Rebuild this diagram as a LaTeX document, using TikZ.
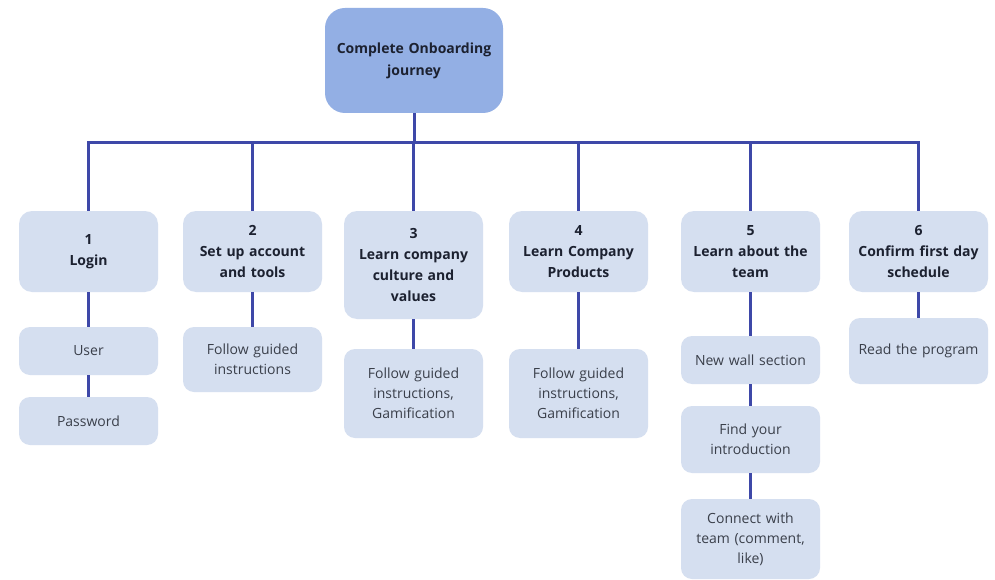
\documentclass[tikz,border=0pt]{standalone}
\usepackage{fontspec}
\setmainfont{Open Sans}
\definecolor{rootfill}{HTML}{93AFE4}
\definecolor{boxfill}{HTML}{D5DFF0}
\definecolor{linkcol}{HTML}{3E48A8}
\definecolor{headtext}{HTML}{1C2130}
\definecolor{bodytext}{HTML}{3A3F4A}
\tikzset{
  x=1pt, y=-1pt,
  rootbox/.style={fill=rootfill, rounded corners=20pt, minimum width=178pt, minimum height=105pt,
    inner sep=0pt, text width=170pt, align=center, text=headtext,
    font=\fontsize{14}{22}\selectfont\bfseries},
  headbox/.style={fill=boxfill, rounded corners=13pt, minimum width=139pt,
    inner sep=0pt, text width=134pt, align=center, text=headtext,
    font=\fontsize{14}{21}\selectfont\bfseries},
  leafbox/.style={fill=boxfill, rounded corners=11pt, minimum width=139pt,
    inner sep=0pt, text width=134pt, align=center, text=bodytext,
    font=\fontsize{14}{20}\selectfont},
  link/.style={draw=linkcol, line width=3pt}
}
\begin{document}
\begin{tikzpicture}
\useasboundingbox[fill=white] (0,0) rectangle (995,580);

% root
\node[rootbox] (root) at (414,60.5) {Complete Onboarding\\journey};

% main steps
\node[headbox, minimum height=81pt]  (s1) at (88.5,251.5)  {1\\Login};
\node[headbox, minimum height=81pt]  (s2) at (252.5,251.5) {2\\Set up account\\and tools};
\node[headbox, minimum height=108pt] (s3) at (413.5,265)   {3\\Learn company\\culture and\\values};
\node[headbox, minimum height=81pt]  (s4) at (578.5,251.5) {4\\Learn Company\\Products};
\node[headbox, minimum height=81pt]  (s5) at (750.5,251.5) {5\\Learn about the\\team};
\node[headbox, minimum height=81pt]  (s6) at (918.5,251.5) {6\\Confirm first day\\schedule};

% sub steps
\node[leafbox, minimum height=48pt] (s1a) at (88.5,351)  {User};
\node[leafbox, minimum height=48pt] (s1b) at (88.5,421)  {Password};
\node[leafbox, minimum height=65pt] (s2a) at (252.5,359.5) {Follow guided\\instructions};
\node[leafbox, minimum height=89pt] (s3a) at (413.5,393.5) {Follow guided\\instructions,\\Gamification};
\node[leafbox, minimum height=89pt] (s4a) at (578.5,393.5) {Follow guided\\instructions,\\Gamification};
\node[leafbox, minimum height=48pt] (s5a) at (750.5,360)  {New wall section};
\node[leafbox, minimum height=67pt] (s5b) at (750.5,439.5) {Find your\\introduction};
\node[leafbox, minimum height=80pt] (s5c) at (750.5,539)  {Connect with\\team (comment,\\like)};
\node[leafbox, minimum height=66pt] (s6a) at (918.5,351)  {Read the program};

% tree connectors
\coordinate (bar) at (0,143);
\draw[link] (root.south) -- (root.south |- bar);
\draw[link] (s1.north) -- (s1.north |- bar) -- (s6.north |- bar) -- (s6.north);
\foreach \n in {s2,s3,s4,s5}
  \draw[link] (\n.north) -- (\n.north |- bar);

\draw[link] (s1.south) -- (s1a.north);
\draw[link] (s1a.south) -- (s1b.north);
\draw[link] (s2.south) -- (s2a.north);
\draw[link] (s3.south) -- (s3a.north);
\draw[link] (s4.south) -- (s4a.north);
\draw[link] (s5.south) -- (s5a.north);
\draw[link] (s5a.south) -- (s5b.north);
\draw[link] (s5b.south) -- (s5c.north);
\draw[link] (s6.south) -- (s6a.north);
\end{tikzpicture}
\end{document}
